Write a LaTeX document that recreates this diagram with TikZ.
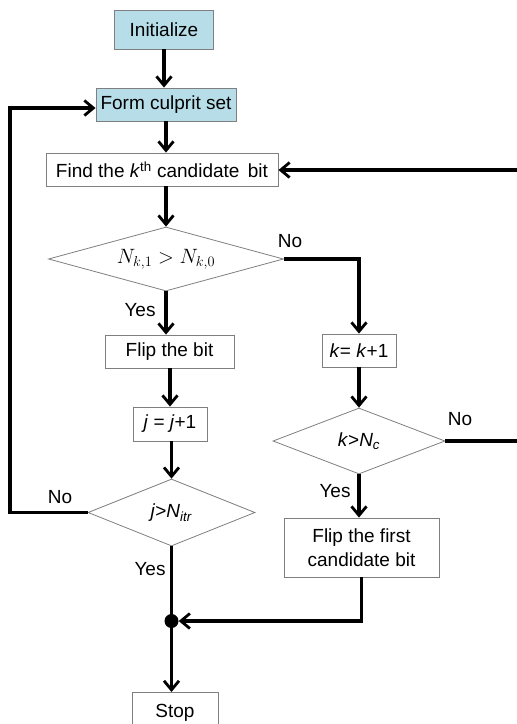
\documentclass[tikz,border=0pt]{standalone}
\usepackage{fontspec}
\setmainfont{Liberation Sans}
\usetikzlibrary{shapes.geometric,arrows.meta}
\definecolor{boxblue}{HTML}{B7DEE8}
\definecolor{boxgray}{HTML}{7F7F7F}
\tikzset{
  pbox/.style={draw=boxgray, line width=0.9pt, inner sep=0pt, align=center,
    font=\fontsize{19}{24}\selectfont},
  cbox/.style={pbox, fill=boxblue},
  dbox/.style={draw=boxgray, line width=0.8pt, diamond, inner sep=0pt,
    font=\fontsize{19}{22}\selectfont},
  conn/.style={line width=3.3pt, line cap=butt, line join=miter},
  arr/.style={conn, -{Straight Barb[length=9pt,width=15pt,line width=2.8pt]}},
  lbl/.style={font=\fontsize{19}{22}\selectfont, inner sep=0pt}
}
\begin{document}
\begin{tikzpicture}[x=1pt,y=-1pt]
\useasboundingbox (0,0) rectangle (517,724);
\node[cbox, minimum width=99pt, minimum height=39pt] (init) at (164,29.5) {Initialize};
\node[cbox, minimum width=140pt, minimum height=33pt] (form) at (166,104.5) {Form culprit set};
\node[pbox, minimum width=232pt, minimum height=33pt] (find) at (162,169.5) {Find the \textit{k}\textsuperscript{th} candidate\, bit};
\node[dbox, shape aspect=3.67, minimum width=235pt, minimum height=64pt, font=\fontsize{21}{24}\selectfont] (d1) at (166,259) {$N_{k,1}>N_{k,0}$};
\node[pbox, minimum width=129pt, minimum height=33pt] (flip) at (169.5,351.5) {Flip the bit};
\node[pbox, minimum width=74pt, minimum height=34pt] (jinc) at (170,424) {\textit{j} = \textit{j}+1};
\node[dbox, shape aspect=2.5, minimum width=167pt, minimum height=67pt] (d3) at (171.5,512.5) {\textit{j}>\textit{N}\textsubscript{\textit{itr}}};
\node[pbox, minimum width=74pt, minimum height=33pt] (kinc) at (359,350.5) {\textit{k}= \textit{k}+1};
\node[dbox, shape aspect=2.6, minimum width=172pt, minimum height=66pt] (d2) at (359,441) {\textit{k}>\textit{N}\textsubscript{\textit{c}}};
\node[pbox, minimum width=155pt, minimum height=59pt] (flipf) at (361.5,547.5) {Flip the first\\candidate bit};
\node[pbox, minimum width=86pt, minimum height=40pt, anchor=north] (stop) at (175,692) {Stop};
\node[circle, fill=black, inner sep=0pt, minimum size=14pt] (dot) at (171.5,621) {};
\coordinate (lt) at (10,108);
\coordinate (rb) at (522,441);
\coordinate (rt) at (522,170);
% connectors
\draw[arr] (init.south) -- (init.south |- form.north);
\draw[arr] (form.south) -- (form.south |- find.north);
\draw[arr] (d1.north |- find.south) -- (d1.north);
\draw[arr] (d1.south) -- (d1.south |- flip.north);
\draw[arr] (flip.south -| jinc.north) -- (jinc.north);
\draw[arr] (d3.north |- jinc.south) -- (d3.north);
\draw[arr] (d3.west) -| (lt) -- (form.west |- lt);
\draw[arr] (d1.east) -| (kinc.north);
\draw[arr] (kinc.south) -- (d2.north);
\draw[arr] (d2.east) -- (rb) -- (rt) -- (find.east |- rt);
\draw[arr] (d2.south) -- (d2.south |- flipf.north);
\draw[conn] (d3.south) -- (dot.center);
\draw[arr] (flipf.south) |- (dot.east);
\draw[arr] (dot.south) -- (dot.south |- stop.north);
% labels
\node[lbl] (l1) at (290,241) {No};
\node[lbl] (l2) at (140,310) {Yes};
\node[lbl] (l3) at (460,419) {No};
\node[lbl] (l4) at (335,491) {Yes};
\node[lbl] (l5) at (60,497) {No};
\node[lbl] (l6) at (150,569) {Yes};
\end{tikzpicture}
\end{document}
